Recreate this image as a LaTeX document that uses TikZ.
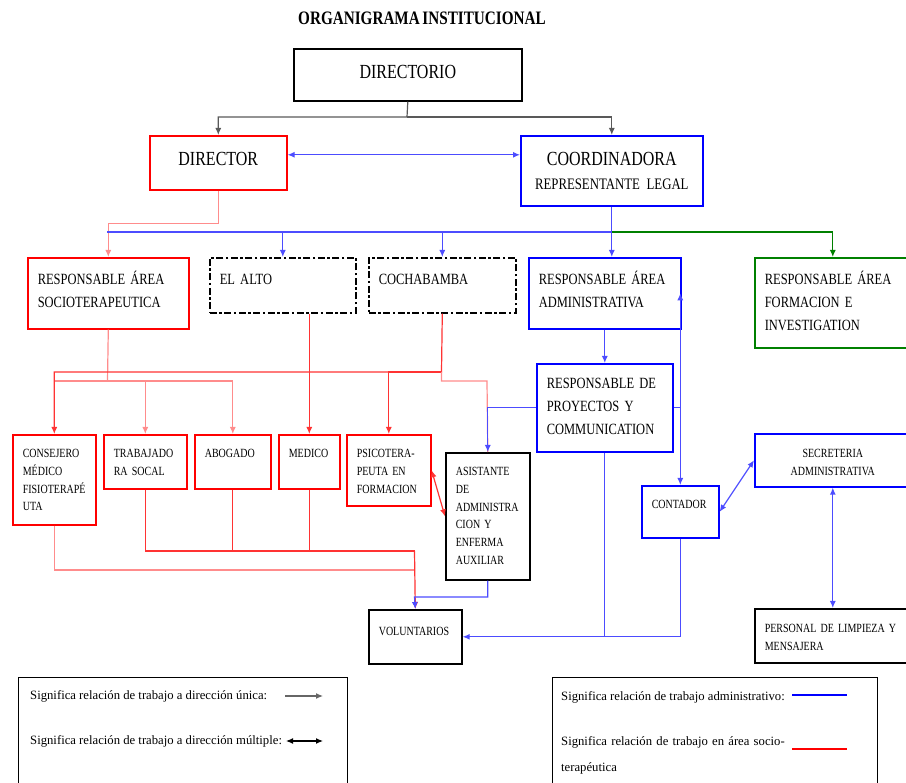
\documentclass[tikz,border=0pt]{standalone}
\usepackage{fontspec}
\setmainfont{Liberation Serif}
\newfontfamily\narrowfont[FakeStretch=0.8, WordSpace=0.7]{Liberation Serif}
\usetikzlibrary{arrows.meta}

\begin{document}
\begin{tikzpicture}[x=1pt,y=-1pt,
>={Latex[length=7pt,width=6pt]},
office/.style={
% The shape:
rectangle,
draw=#1,
line width=1.6pt,
anchor=north west,
inner xsep=10pt,
inner ysep=0pt,
align=left
},
office/.default=black,
dashbox/.style={office, dash pattern=on 7pt off 2.5pt on 2.5pt off 2.5pt},
bigtext/.style={font=\narrowfont\fontsize{20}{24}\selectfont, align=center},
headtext/.style={font=\narrowfont\fontsize{15.6}{23}\selectfont},
smalltext/.style={font=\narrowfont\fontsize{12.5}{17.7}\selectfont},
keytext/.style={font=\fontsize{12.7}{26}\selectfont, inner sep=0pt, anchor=base west, align=left},
keybox/.style={draw, line width=1.2pt, anchor=north west, minimum height=120pt},
% The lines:
blackline/.style={draw=black!65, line width=1.2pt},
redline/.style={draw=red!80, line width=1.2pt},
paleline/.style={draw=red!45, line width=1.2pt},
blueline/.style={draw=blue!70, line width=1.2pt},
greenline/.style={draw=green!50!black, line width=1.2pt}
]
\useasboundingbox (0,0) rectangle (906,783);
\node (title) [font=\narrowfont\bfseries\fontsize{19}{22}\selectfont] at (422,18.5) {ORGANIGRAMA INSTITUCIONAL};
% Top:
\node (directorio) [office, bigtext, text width=208pt, text height=30pt, text depth=22pt] at (293,48) {DIRECTORIO};
\node (director) [office=red, bigtext, text width=117pt, text height=30pt, text depth=24pt] at (149,135) {DIRECTOR};
\node (coord) [office=blue, bigtext, inner xsep=8pt, text width=166pt, text height=30pt, text depth=40pt] at (520,135) {COORDINADORA\\{\fontsize{16}{24}\selectfont REPRESENTANTE\ LEGAL}};
% Areas:
\node (socio) [office=red, headtext, text width=141pt, text height=27pt, text depth=44pt] at (27,257) {RESPONSABLE ÁREA\\SOCIOTERAPEUTICA};
\node (elalto) [dashbox, headtext, text width=126pt, text height=27pt, text depth=28pt] at (209,257) {EL ALTO};
\node (cocha) [dashbox, headtext, text width=127pt, text height=27pt, text depth=28pt] at (368,257) {COCHABAMBA};
\node (admin) [office=blue, headtext, text width=132pt, text height=27pt, text depth=44pt] at (528,257) {RESPONSABLE ÁREA\\ADMINISTRATIVA};
\node (formacion) [office=green!50!black, headtext, text width=136pt, text height=27pt, text depth=63pt] at (754,257) {RESPONSABLE ÁREA\\FORMACION E\\INVESTIGATION};
\node (proyectos) [office=blue, headtext, text width=116pt, text height=25pt, text depth=63pt] at (536,363) {RESPONSABLE DE\\PROYECTOS Y\\COMMUNICATION};
% Staff:
\node (consejero) [office=red, smalltext, text width=63pt, text height=23pt, text depth=67pt] at (12,434) {CONSEJERO\\MÉDICO\\FISIOTERAPÉ\\UTA};
\node (trabajado) [office=red, smalltext, text width=63pt, text height=23pt, text depth=31pt] at (103,434) {TRABAJADO\\RA SOCAL};
\node (abogado) [office=red, smalltext, text width=56pt, text height=23pt, text depth=31pt] at (194,434) {ABOGADO};
\node (medico) [office=red, smalltext, text width=41pt, text height=23pt, text depth=31pt] at (278,434) {MEDICO};
\node (psico) [office=red, smalltext, text width=64pt, text height=23pt, text depth=48pt] at (346,434) {PSICOTERA-\\PEUTA EN\\FORMACION};
\node (asist) [office, smalltext, text width=64pt, text height=23pt, text depth=104pt] at (445,452) {ASISTANTE\\DE\\ADMINISTRA\\CION Y\\ENFERMA\\AUXILIAR};
\node (volunt) [office, smalltext, text width=73pt, text height=26pt, text depth=28pt] at (368,609) {VOLUNTARIOS};
\node (contador) [office=blue, smalltext, text width=57pt, text height=23pt, text depth=29pt] at (641,485) {CONTADOR};
\node (secret) [office=blue, smalltext, align=center, text width=136pt, text height=24pt, text depth=29pt] at (754,433) {SECRETERIA\\ADMINISTRATIVA};
\node (personal) [office, smalltext, text width=136pt, text height=24pt, text depth=30pt] at (754,608) {PERSONAL DE LIMPIEZA Y\\MENSAJERA};
% Junctions:
\coordinate (split) at (407,117);
\coordinate (bus) at (107,232);
\coordinate (cbus) at (441.5,372);
\coordinate (sbus) at (107.5,381);
\coordinate (pturn) at (487,381);
\coordinate (lowbus) at (414.5,551);
\coordinate (farbus) at (414.5,570);
\coordinate (abus) at (414.5,597);
% Lines:
\draw[blackline,->] (directorio.south) -- (split) -| (director.north);
\draw[blackline,->] (split) -| (coord.north);
\path ([yshift=8pt]director.east) edge[blueline,<->] ([yshift=8pt]director.east -| coord.west);
\draw[paleline,->] (director.south) -- ++(0,33) -| (socio.north);
\draw[blueline] (coord.south) |- (bus);
\draw[blueline,->] (bus -| elalto.north) -- (elalto.north);
\draw[blueline,->] (bus -| cocha.north) -- (cocha.north);
\draw[blueline,->] (coord.south |- bus) -- (coord.south |- admin.north);
\draw[greenline,->] (coord.south |- bus) -| (formacion.north);
\draw[paleline] (socio.south) -- (sbus);
\draw[paleline,->] (sbus) -| (trabajado.north);
\draw[paleline,->] (sbus) -| (abogado.north);
\draw[paleline] (sbus) -- (consejero.north |- sbus);
\draw[redline,->] (cocha.south) -- (cbus) -| (consejero.north);
\draw[redline,->] (cbus) -| (psico.north);
\draw[paleline] (cbus) |- (pturn) -- (asist.north);
\draw[redline,->] (medico.north |- elalto.south) -- (medico.north);
\path (admin.south) edge[blueline,->] (proyectos.north);
\draw[blueline,->] (proyectos.west) -| (asist.north);
\draw[blueline] (proyectos.east) -- (proyectos.east -| contador.north);
\draw[blueline,<->] (contador.north) -- (contador.north |- admin.east);
\path (contador.east) edge[blueline,<->] (secret.west);
\path (secret.south) edge[blueline,<->] (personal.north);
\path (psico.east) edge[redline,<->] (asist.west);
\draw[paleline] (consejero.south) |- (farbus);
\draw[redline] (trabajado.south) |- (lowbus);
\draw[redline] (abogado.south) -- (abogado.south |- lowbus);
\draw[redline] (medico.south) -- (medico.south |- lowbus);
\draw[redline,->] (lowbus) -- (volunt.north);
\draw[blueline,->] (asist.south) |- (abus) -- (volunt.north);
\draw[blueline,->] (proyectos.south) |- (volunt.east);
\draw[blueline] (contador.south) |- (proyectos.south |- volunt.east);
% Keys:
\node (keyleft) [keybox, minimum width=329pt] at (18,677) {};
\node (keyright) [keybox, minimum width=325pt] at (552,677) {};
\node (unikey) [keytext] at (30,699) {Significa relación de trabajo a dirección única:};
\node (multikey) [keytext] at (30,744) {Significa relación de trabajo a dirección múltiple:};
\node (admkey) [keytext] at (561,700) {Significa relación de trabajo administrativo:};
\node (sockey) [keytext, text width=300pt] at (561,745) {Significa relación de trabajo en área socio-\\terapéutica};
\coordinate (u1) at (285,696);
\coordinate (u2) at (323,696);
\coordinate (m1) at (286,741);
\coordinate (m2) at (323,741);
\coordinate (b1) at (792,695);
\coordinate (b2) at (847,695);
\coordinate (r1) at (792,749);
\coordinate (r2) at (847,749);
\draw[black!60, line width=1.2pt, ->] (u1) -- (u2);
\draw[black, line width=1.2pt, <->] (m1) -- (m2);
\draw[blue, line width=2pt] (b1) -- (b2);
\draw[red, line width=2pt] (r1) -- (r2);
\end{tikzpicture}
\end{document}
